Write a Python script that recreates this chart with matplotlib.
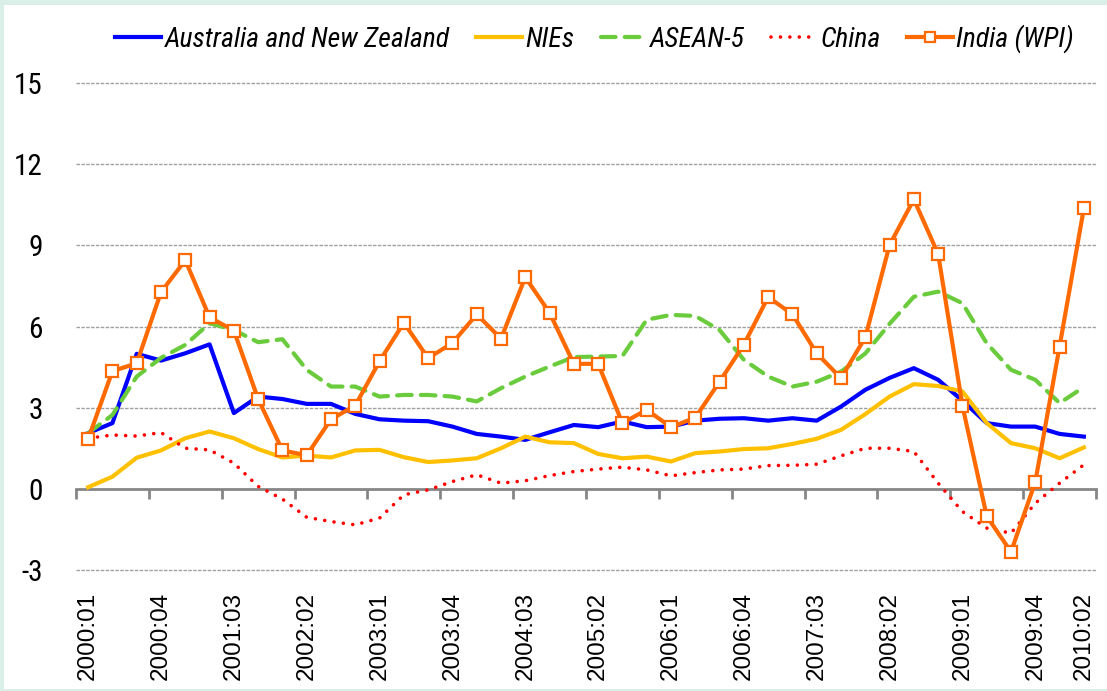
import matplotlib
matplotlib.use("Agg")
import matplotlib.pyplot as plt
from matplotlib import font_manager as fm
from matplotlib.patches import Rectangle

# ---- data ----
quarters = [f"{y}:0{q}" for y in range(2000, 2011) for q in range(1, 5)][:42]

australia_nz = [2.06, 2.43, 4.99, 4.74, 5.01, 5.34, 2.80, 3.41, 3.32, 3.14, 3.14, 2.77,
                2.57, 2.52, 2.50, 2.30, 2.03, 1.93, 1.81, 2.09, 2.36, 2.28, 2.49, 2.28,
                2.30, 2.52, 2.59, 2.61, 2.52, 2.61, 2.52, 3.04, 3.66, 4.10, 4.46, 4.03,
                3.26, 2.43, 2.30, 2.30, 2.03, 1.93]
nies = [0.06, 0.45, 1.15, 1.42, 1.87, 2.12, 1.87, 1.47, 1.16, 1.23, 1.16, 1.42,
        1.44, 1.17, 0.99, 1.05, 1.13, 1.50, 1.93, 1.72, 1.69, 1.29, 1.13, 1.19,
        1.01, 1.32, 1.38, 1.47, 1.50, 1.66, 1.85, 2.18, 2.76, 3.41, 3.87, 3.80,
        3.60, 2.43, 1.69, 1.50, 1.13, 1.53]
asean5 = [2.06, 2.73, 4.15, 4.84, 5.32, 6.12, 5.87, 5.42, 5.53, 4.40, 3.78, 3.78,
          3.41, 3.47, 3.47, 3.41, 3.23, 3.72, 4.15, 4.52, 4.87, 4.89, 4.91, 6.25,
          6.43, 6.39, 5.87, 4.77, 4.15, 3.78, 3.96, 4.33, 5.00, 6.10, 7.10, 7.29,
          6.86, 5.38, 4.40, 4.03, 3.17, 3.76]
china = [1.87, 1.99, 1.95, 2.08, 1.50, 1.44, 0.95, 0.09, -0.38, -1.05, -1.21, -1.33,
         -1.08, -0.22, -0.04, 0.27, 0.52, 0.21, 0.30, 0.49, 0.64, 0.73, 0.80, 0.70,
         0.48, 0.60, 0.70, 0.73, 0.86, 0.87, 0.91, 1.22, 1.50, 1.50, 1.38, 0.21,
         -0.84, -1.45, -1.64, -0.53, 0.21, 0.89]
india_wpi = [1.84, 4.35, 4.64, 7.27, 8.45, 6.34, 5.85, 3.32, 1.42, 1.24, 2.57, 3.08,
             4.72, 6.14, 4.83, 5.39, 6.45, 5.55, 7.82, 6.51, 4.62, 4.62, 2.43, 2.92,
             2.28, 2.63, 3.96, 5.33, 7.09, 6.45, 5.01, 4.09, 5.60, 9.01, 10.70, 8.68,
             3.07, -1.01, -2.33, 0.25, 5.26, 10.37]

tick_label_pos = [0, 3, 6, 9, 12, 15, 18, 21, 24, 27, 30, 33, 36, 39, 41]
tick_labels = ["2000:01", "2000:04", "2001:03", "2002:02", "2003:01", "2003:04",
               "2004:03", "2005:02", "2006:01", "2006:04", "2007:03", "2008:02",
               "2009:01", "2009:04", "2010:02"]
y_ticks = [-3, 0, 3, 6, 9, 12, 15]


def pick(cands):
    for c in cands:
        try:
            fm.findfont(fm.FontProperties(family=c), fallback_to_default=False)
            return c
        except Exception:
            pass
    return "DejaVu Sans"


narrow = pick(["Liberation Sans Narrow", "Roboto Condensed", "DejaVu Sans Condensed",
               "Liberation Sans"])
regular = pick(["Liberation Sans", "DejaVu Sans"])

W, H = 1107, 691
fig = plt.figure(figsize=(W / 100, H / 100), dpi=100, facecolor="#d9efe8")
fig.patches.append(Rectangle((4 / W, 2 / H), 1 - 4 / W, 1 - 7 / H,
                             transform=fig.transFigure, facecolor="white",
                             edgecolor="none", zorder=-5))

ax = fig.add_axes([76 / W, (H - 570) / H, (1096 - 76) / W, (570 - 83) / H])
ax.set_facecolor("none")
ax.set_zorder(1)

x = list(range(len(quarters)))
ax.plot(x, australia_nz, color="#0000ff", lw=3.0, label="Australia and New Zealand",
        zorder=3, solid_joinstyle="round")
ax.plot(x, nies, color="#ffc000", lw=3.0, label="NIEs", zorder=3)
ax.plot(x, asean5, color="#6acc3c", lw=3.0, dashes=(3.5, 2.2), label="ASEAN-5",
        zorder=3, dash_capstyle="round")
ax.plot(x, china, color="#ff0000", lw=2.6, dashes=(0.01, 2.6), dash_capstyle="round",
        label="China", zorder=3)
ax.plot(x, india_wpi, color="#ff6a00", lw=3.0, marker="s", markersize=8.5,
        markerfacecolor="white", markeredgecolor="#ff6a00", markeredgewidth=1.6,
        label="India (WPI)", zorder=4)

ax.set_xlim(-0.5, len(quarters) - 0.5)
ax.set_ylim(-3, 15)
ax.set_yticks(y_ticks)
ax.set_yticklabels([str(v) for v in y_ticks], fontfamily=narrow, fontsize=21)
ax.tick_params(axis="y", length=0, pad=24)
for v in y_ticks:
    if v != 0:
        ax.axhline(v, color="#a0a0a0", lw=1.0, dashes=(2.5, 1.0), zorder=1, clip_on=False)

for s in ["left", "right", "top"]:
    ax.spines[s].set_visible(False)
ax.spines["bottom"].set_position(("data", 0))
ax.spines["bottom"].set_color("#868686")
ax.spines["bottom"].set_linewidth(2.0)
ax.spines["bottom"].set_zorder(2)
ax.set_xticks([b - 0.5 for b in range(0, len(quarters) + 1, 3)])
ax.set_xticklabels([])
ax.tick_params(axis="x", direction="out", length=7.5, width=2.0, color="#868686")

sec = ax.secondary_xaxis(0.0)
sec.set_xticks(tick_label_pos)
sec.set_xticklabels(tick_labels, rotation=90, fontfamily=regular, fontsize=17.5)
sec.tick_params(length=0, pad=16)
sec.spines["bottom"].set_visible(False)

leg = fig.legend(loc="center", bbox_to_anchor=(0.537, 0.944), ncol=5, frameon=False,
                 prop=fm.FontProperties(family=narrow, style="italic", size=20),
                 handlelength=1.65, handletextpad=0.12, columnspacing=0.95,
                 markerscale=0.9)

fig.savefig("out.png", dpi=100, facecolor=fig.get_facecolor())
